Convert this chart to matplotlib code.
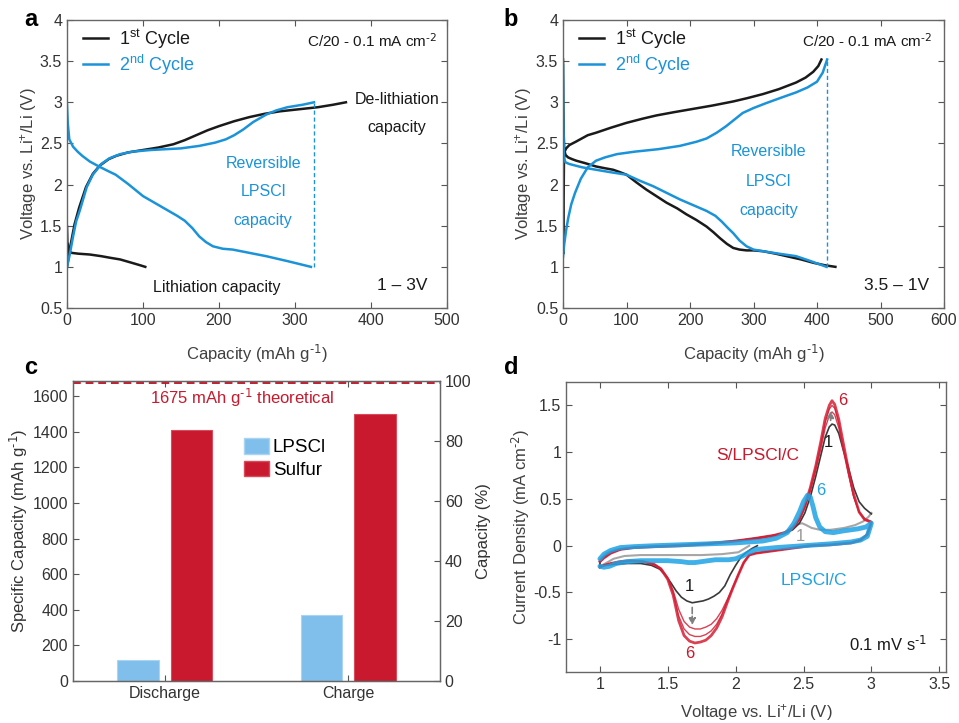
import matplotlib
matplotlib.use('Agg')
import matplotlib.pyplot as plt
from matplotlib.ticker import FuncFormatter
from matplotlib.patches import Patch

plt.rcParams['font.family'] = ['Liberation Sans', 'DejaVu Sans']
plt.rcParams['mathtext.default'] = 'regular'

# ---- panel a : 1 - 3 V window ----
a_c1_dis_x = [0, 0.5, 3, 6, 15, 30, 45, 57, 70, 85, 96, 103]
a_c1_dis_y = [1.49, 1.30, 1.19, 1.17, 1.16, 1.15, 1.13, 1.11, 1.09, 1.05, 1.02, 1.00]
a_c1_chg_x = [0, 2, 5, 10, 16, 25, 34, 43, 55, 65, 80, 100, 120, 140, 155, 170, 185, 200,
              220, 240, 260, 280, 300, 330, 350, 367]
a_c1_chg_y = [1.00, 1.12, 1.28, 1.52, 1.72, 1.97, 2.13, 2.23, 2.31, 2.35, 2.39, 2.42, 2.45,
              2.49, 2.54, 2.60, 2.66, 2.71, 2.77, 2.82, 2.86, 2.89, 2.91, 2.94, 2.97, 3.00]
a_c2_dis_x = [0, 1, 3, 8, 14, 20, 30, 42, 55, 64, 80, 100, 115, 130, 145, 155, 165, 174,
              183, 192, 205, 218, 240, 262, 290, 321]
a_c2_dis_y = [2.97, 2.75, 2.55, 2.46, 2.40, 2.35, 2.28, 2.22, 2.16, 2.12, 2.01, 1.86, 1.78,
              1.70, 1.62, 1.56, 1.47, 1.37, 1.30, 1.25, 1.22, 1.21, 1.17, 1.13, 1.07, 1.00]
a_c2_chg_x = [0, 2, 4, 8, 12, 17, 26, 34, 45, 56, 70, 86, 110, 130, 150, 174, 195, 209,
              220, 232, 245, 262, 275, 290, 310, 325]
a_c2_chg_y = [1.00, 1.08, 1.17, 1.37, 1.55, 1.69, 1.97, 2.12, 2.25, 2.32, 2.37, 2.40, 2.42,
              2.43, 2.44, 2.47, 2.51, 2.55, 2.60, 2.67, 2.76, 2.85, 2.90, 2.94, 2.97, 3.00]
a_rev_cap = 325

# ---- panel b : 3.5 - 1 V window ----
b_c1_dis_x = [0, 0.5, 1.2, 2, 4, 8, 14, 21, 35, 52, 65, 79, 90, 100, 115, 131, 147, 163,
              180, 194, 210, 226, 237, 247, 258, 268, 278, 289, 300, 315, 335, 352, 375,
              394, 412, 429]
b_c1_dis_y = [3.52, 3.00, 2.60, 2.42, 2.36, 2.33, 2.31, 2.29, 2.26, 2.22, 2.20, 2.18, 2.15,
              2.12, 2.03, 1.94, 1.86, 1.78, 1.71, 1.64, 1.57, 1.49, 1.42, 1.35, 1.28, 1.23,
              1.21, 1.20, 1.20, 1.19, 1.16, 1.13, 1.09, 1.05, 1.02, 1.00]
b_c1_chg_x = [1, 1, 1.5, 2.5, 5, 10, 20, 39, 52, 75, 100, 125, 147, 175, 205, 235, 268,
              290, 315, 340, 367, 382, 394, 402, 407]
b_c1_chg_y = [1.17, 1.80, 2.30, 2.40, 2.44, 2.48, 2.52, 2.60, 2.63, 2.69, 2.75, 2.80, 2.84,
              2.88, 2.92, 2.96, 3.01, 3.05, 3.10, 3.16, 3.24, 3.30, 3.37, 3.44, 3.52]
b_c2_dis_x = [0, 0.5, 1.5, 4, 10, 20, 30, 52, 75, 100, 120, 142, 163, 184, 205, 226, 240,
              250, 260, 268, 278, 289, 300, 315, 340, 367, 390, 415]
b_c2_dis_y = [3.45, 2.80, 2.32, 2.27, 2.25, 2.23, 2.21, 2.18, 2.15, 2.12, 2.05, 1.98, 1.90,
              1.82, 1.75, 1.68, 1.62, 1.55, 1.47, 1.41, 1.32, 1.25, 1.21, 1.19, 1.16, 1.13,
              1.07, 1.00]
b_c2_chg_x = [0, 2, 5, 8.4, 13, 19, 28, 39, 52, 66, 85, 113, 150, 184, 210, 226, 242, 257,
              270, 283, 300, 320, 345, 367, 385, 400, 409, 416]
b_c2_chg_y = [1.12, 1.28, 1.45, 1.60, 1.76, 1.90, 2.07, 2.21, 2.29, 2.33, 2.37, 2.40, 2.43,
              2.47, 2.52, 2.56, 2.63, 2.71, 2.79, 2.87, 2.93, 2.99, 3.06, 3.12, 3.18, 3.25,
              3.36, 3.52]
b_rev_cap = 416

# ---- panel c : bars ----
c_categories = ['Discharge', 'Charge']
c_lpsci = [117, 370]
c_sulfur = [1409, 1501]
c_theoretical = 1675

# ---- panel d : CV, S/LPSCI/C (red cycles 2,4,6 + black cycle 1) ----
d_v_an = [1.00, 1.03, 1.08, 1.15, 1.25, 1.40, 1.60, 1.80, 2.00, 2.15, 2.28, 2.36, 2.42,
          2.47, 2.51, 2.55, 2.59, 2.63, 2.66, 2.69, 2.71, 2.73, 2.76, 2.79, 2.83, 2.87,
          2.91, 2.95, 3.00]
d_v_ca = [2.97, 2.92, 2.85, 2.70, 2.55, 2.40, 2.25, 2.15, 2.10, 2.06, 2.02, 1.98, 1.94,
          1.90, 1.86, 1.82, 1.78, 1.74, 1.70, 1.66, 1.62, 1.58, 1.54, 1.50, 1.45, 1.40,
          1.32, 1.23, 1.15, 1.08, 1.03, 1.00]
d_red6_an = [-0.17, -0.13, -0.08, -0.04, -0.02, -0.01, 0.00, 0.02, 0.05, 0.08, 0.11, 0.14,
             0.19, 0.29, 0.43, 0.62, 0.85, 1.13, 1.36, 1.50, 1.55, 1.51, 1.35, 1.12, 0.82,
             0.55, 0.36, 0.28, 0.25]
d_red6_ca = [0.12, 0.06, 0.03, 0.01, 0.00, -0.03, -0.06, -0.08, -0.10, -0.18, -0.31, -0.45,
             -0.60, -0.76, -0.88, -0.96, -1.01, -1.03, -1.04, -1.02, -0.96, -0.80, -0.53,
             -0.36, -0.25, -0.20, -0.17, -0.16, -0.17, -0.19, -0.21, -0.23]
d_red4_an = [-0.17, -0.13, -0.08, -0.04, -0.02, -0.01, 0.00, 0.02, 0.05, 0.08, 0.11, 0.14,
             0.19, 0.28, 0.42, 0.61, 0.84, 1.10, 1.32, 1.46, 1.50, 1.47, 1.31, 1.08, 0.79,
             0.53, 0.36, 0.28, 0.25]
d_red4_ca = [0.12, 0.06, 0.03, 0.01, 0.00, -0.03, -0.06, -0.08, -0.10, -0.18, -0.31, -0.45,
             -0.59, -0.73, -0.84, -0.91, -0.95, -0.97, -0.97, -0.95, -0.89, -0.75, -0.51,
             -0.35, -0.25, -0.20, -0.17, -0.16, -0.17, -0.19, -0.21, -0.23]
d_red2_an = [-0.17, -0.13, -0.08, -0.04, -0.02, -0.01, 0.00, 0.02, 0.05, 0.08, 0.11, 0.14,
             0.18, 0.27, 0.40, 0.58, 0.80, 1.05, 1.26, 1.39, 1.43, 1.40, 1.26, 1.04, 0.77,
             0.52, 0.36, 0.29, 0.26]
d_red2_ca = [0.12, 0.06, 0.03, 0.01, 0.00, -0.03, -0.06, -0.08, -0.10, -0.18, -0.31, -0.44,
             -0.57, -0.69, -0.78, -0.84, -0.87, -0.89, -0.89, -0.87, -0.81, -0.68, -0.48,
             -0.34, -0.24, -0.20, -0.17, -0.16, -0.17, -0.19, -0.21, -0.23]
d_blk1_v_ca = [2.16, 2.12, 2.08, 2.04, 2.00, 1.96, 1.92, 1.88, 1.84, 1.80, 1.76, 1.72, 1.68,
               1.64, 1.60, 1.56, 1.52, 1.48, 1.44, 1.38, 1.30, 1.20, 1.10, 1.04, 1.00]
d_blk1_ca = [0.00, -0.03, -0.07, -0.12, -0.21, -0.31, -0.43, -0.50, -0.54, -0.57, -0.59,
             -0.60, -0.61, -0.59, -0.55, -0.48, -0.39, -0.31, -0.25, -0.21, -0.19, -0.19,
             -0.20, -0.21, -0.22]
d_blk1_an = [-0.17, -0.12, -0.07, -0.04, -0.02, -0.01, 0.00, 0.02, 0.05, 0.08, 0.11, 0.13,
             0.17, 0.24, 0.35, 0.52, 0.74, 0.98, 1.16, 1.27, 1.30, 1.29, 1.20, 1.04, 0.84,
             0.62, 0.47, 0.40, 0.34]

# ---- panel d : CV, LPSCI/C (blue cycle 6, grey cycle 1) ----
d_b_v_an = [1.00, 1.03, 1.08, 1.15, 1.25, 1.40, 1.60, 1.80, 2.00, 2.20, 2.30, 2.38, 2.43,
            2.47, 2.50, 2.53, 2.55, 2.57, 2.59, 2.62, 2.66, 2.72, 2.80, 2.90, 2.96, 3.00]
d_b6_an = [-0.14, -0.09, -0.05, -0.02, -0.01, 0.00, 0.01, 0.02, 0.03, 0.05, 0.08, 0.14, 0.24,
           0.36, 0.47, 0.54, 0.52, 0.42, 0.30, 0.20, 0.15, 0.14, 0.16, 0.18, 0.20, 0.24]
d_b_v_ca = [2.97, 2.92, 2.85, 2.70, 2.50, 2.30, 2.15, 2.10, 2.05, 2.00, 1.95, 1.90, 1.85,
            1.80, 1.75, 1.70, 1.65, 1.60, 1.50, 1.40, 1.30, 1.20, 1.12, 1.07, 1.03, 1.00]
d_b6_ca = [0.10, 0.06, 0.04, 0.02, 0.00, -0.02, -0.04, -0.07, -0.11, -0.14, -0.15, -0.15,
           -0.15, -0.16, -0.17, -0.18, -0.18, -0.17, -0.16, -0.16, -0.16, -0.17, -0.19,
           -0.22, -0.23, -0.22]
d_g1_v_ca = [2.10, 2.02, 1.90, 1.75, 1.60, 1.45, 1.30, 1.18, 1.10, 1.04, 1.00]
d_g1_ca = [0.00, -0.07, -0.09, -0.10, -0.10, -0.10, -0.10, -0.11, -0.14, -0.19, -0.22]
d_g1_v_an = [1.00, 1.05, 1.12, 1.25, 1.50, 1.80, 2.05, 2.25, 2.35, 2.42, 2.46, 2.49, 2.52,
             2.56, 2.62, 2.70, 2.80, 2.88, 2.94, 2.98, 3.00]
d_g1_an = [-0.15, -0.08, -0.04, -0.02, 0.00, 0.03, 0.06, 0.09, 0.13, 0.19, 0.23, 0.24, 0.22,
           0.19, 0.17, 0.17, 0.19, 0.22, 0.26, 0.31, 0.35]

BLACK = '#1a1a1a'
BLUE = '#1b93d9'
CBLUE = '#1ea3e4'
RED = '#c8192e'
LBLUE = '#80bfeb'
TXT = '#333333'

fmt = FuncFormatter(lambda v, p: '%g' % v)


def style(ax):
    ax.tick_params(direction='in', top=True, right=True, length=4, labelsize=11.5,
                   colors='#555555', labelcolor=TXT)
    for s in ax.spines.values():
        s.set_color('#666666')
        s.set_linewidth(1.0)


fig = plt.figure(figsize=(9.59, 7.23), dpi=100)
W, H = 959.0, 723.0


def add_ax(l, t, r, b):
    return fig.add_axes([l / W, 1 - b / H, (r - l) / W, (b - t) / H])


ax_a = add_ax(67, 20, 447, 308)
ax_b = add_ax(563, 20, 944, 308)
ax_c = add_ax(73, 381, 440, 681)
ax_d = add_ax(566, 382, 946, 672)

# ---- a ----
ax_a.plot(a_c1_dis_x, a_c1_dis_y, color=BLACK, lw=1.8, label='1$^{st}$ Cycle')
ax_a.plot(a_c1_chg_x, a_c1_chg_y, color=BLACK, lw=1.8)
ax_a.plot(a_c2_dis_x, a_c2_dis_y, color=BLUE, lw=1.8, label='2$^{nd}$ Cycle')
ax_a.plot(a_c2_chg_x, a_c2_chg_y, color=BLUE, lw=1.8)
ax_a.plot([a_rev_cap, a_rev_cap], [1.0, 3.0], color=BLUE, lw=1.0, ls=(0, (3, 2)))
ax_a.set_xlim(0, 500)
ax_a.set_ylim(0.5, 4)
ax_a.set_xticks(range(0, 501, 100))
ax_a.text(0.974, 0.927, r'C/20 - 0.1 mA cm$^{\text{-2}}$', transform=ax_a.transAxes,
          ha='right', va='center', fontsize=11, color=BLACK)
ax_a.text(379, 3.03, 'De-lithiation', fontsize=11.5, ha='left', va='center', color=BLACK)
ax_a.text(434, 2.69, 'capacity', fontsize=11.5, ha='center', va='center', color=BLACK)
for txt, yy in zip(['Reversible', 'LPSCl', 'capacity'], [2.26, 1.91, 1.56]):
    ax_a.text(258, yy, txt, fontsize=11.5, ha='center', va='center', color=BLUE)
ax_a.text(197, 0.755, 'Lithiation capacity', fontsize=11.5, ha='center', va='center', color=BLACK)
ax_a.text(474, 0.77, '1 – 3V', fontsize=12.5, ha='right', va='center', color=BLACK)

# ---- b ----
ax_b.plot(b_c1_dis_x, b_c1_dis_y, color=BLACK, lw=1.8, label='1$^{st}$ Cycle')
ax_b.plot(b_c1_chg_x, b_c1_chg_y, color=BLACK, lw=1.8)
ax_b.plot(b_c2_dis_x, b_c2_dis_y, color=BLUE, lw=1.8, label='2$^{nd}$ Cycle')
ax_b.plot(b_c2_chg_x, b_c2_chg_y, color=BLUE, lw=1.8)
ax_b.plot([b_rev_cap, b_rev_cap], [1.0, 3.5], color=BLUE, lw=1.0, ls=(0, (3, 2)))
ax_b.set_xlim(0, 600)
ax_b.set_ylim(0.5, 4)
ax_b.set_xticks(range(0, 601, 100))
ax_b.text(0.969, 0.927, r'C/20 - 0.1 mA cm$^{\text{-2}}$', transform=ax_b.transAxes,
          ha='right', va='center', fontsize=11, color=BLACK)
for txt, yy in zip(['Reversible', 'LPSCl', 'capacity'], [2.40, 2.04, 1.69]):
    ax_b.text(324, yy, txt, fontsize=11.5, ha='center', va='center', color=BLUE)
ax_b.text(576, 0.77, '3.5 – 1V', fontsize=12.5, ha='right', va='center', color=BLACK)

for ax in (ax_a, ax_b):
    style(ax)
    ax.xaxis.set_major_formatter(fmt)
    ax.yaxis.set_major_formatter(fmt)
    ax.set_xlabel(r'Capacity (mAh g$^{\text{-1}}$)', fontsize=12, color='#404040')
    ax.xaxis.set_label_coords(0.5, -0.12)
    ax.set_ylabel('Voltage vs. Li$^{+}$/Li (V)', fontsize=12, color='#404040')
    ax.legend(loc='upper left', bbox_to_anchor=(0.042, 0.975), frameon=False, fontsize=13,
              handlelength=1.4, handletextpad=0.6, borderpad=0, borderaxespad=0,
              labelspacing=0.1, labelcolor='linecolor')
ax_a.yaxis.set_label_coords(-0.074, 0.5)
ax_b.yaxis.set_label_coords(-0.076, 0.5)

# ---- c ----
pos = [1, 2]
off, bw = 0.145, 0.225
ax_c.bar([p - off for p in pos], c_lpsci, width=bw, color=LBLUE, edgecolor='#a9d4f2', lw=0.8)
ax_c.bar([p + off for p in pos], c_sulfur, width=bw, color=RED, edgecolor='#d94a5a', lw=0.8)
ax_c.axhline(c_theoretical, color=RED, lw=1.4, ls=(0, (4, 2.5)))
ax_c.text(1.42, 1590, r'%d mAh g$^{\text{-1}}$ theoretical' % c_theoretical, color=RED,
          fontsize=12, ha='center', va='center')
ax_c.set_xlim(0.5, 2.5)
ax_c.set_ylim(0, 1685)
ax_c.set_xticks(pos)
ax_c.set_xticklabels(c_categories)
ax_c.set_yticks(range(0, 1601, 200))
style(ax_c)
ax_c.tick_params(right=False)
ax_c.set_ylabel(r'Specific Capacity (mAh g$^{\text{-1}}$)', fontsize=12, color=TXT)
ax_c.yaxis.set_label_coords(-0.117, 0.5)
ax_c.legend(handles=[Patch(facecolor=LBLUE, edgecolor='#a9d4f2', label='LPSCl'),
                     Patch(facecolor=RED, edgecolor='#d94a5a', label='Sulfur')],
            loc='upper left', bbox_to_anchor=(0.465, 0.81), frameon=False, fontsize=13.5,
            handlelength=1.35, handleheight=0.9, handletextpad=0.2, borderpad=0,
            borderaxespad=0, labelspacing=0.25)
ax_c2 = ax_c.twinx()
ax_c2.set_ylim(0, 100)
ax_c2.set_yticks(range(0, 101, 20))
ax_c2.tick_params(direction='in', length=4, labelsize=11.5, colors='#555555', labelcolor=TXT)
for s in ax_c2.spines.values():
    s.set_color('#666666')
ax_c2.set_ylabel('Capacity (%)', fontsize=12, color=TXT)
ax_c2.yaxis.set_label_coords(1.098, 0.5)

# ---- d ----
ax_d.plot(d_g1_v_ca + d_g1_v_an, d_g1_ca + d_g1_an, color='#a6a6a6', lw=1.5)
ax_d.plot(d_blk1_v_ca + d_v_an, d_blk1_ca + d_blk1_an, color='#3a3a3a', lw=1.2)
for ian, ica, lw in [(d_red2_an, d_red2_ca, 1.0), (d_red4_an, d_red4_ca, 1.0),
                     (d_red6_an, d_red6_ca, 2.0)]:
    ax_d.plot(d_v_an + d_v_ca, ian + ica, color='#d41f35', lw=lw, alpha=0.85)
ax_d.plot(d_b_v_an + d_b_v_ca, d_b6_an + d_b6_ca, color=CBLUE, lw=3.5, alpha=0.85,
          solid_capstyle='round')
ax_d.annotate('', xy=(1.68, -0.88), xytext=(1.68, -0.63),
              arrowprops=dict(arrowstyle='-|>', ls='--', color='#808080', lw=1.2,
                              mutation_scale=10))
ax_d.annotate('', xy=(2.70, 1.47), xytext=(2.70, 1.31),
              arrowprops=dict(arrowstyle='-|>', ls='--', color='#808080', lw=1.2,
                              mutation_scale=10))
ax_d.text(2.79, 1.55, '6', color=RED, fontsize=12, ha='center', va='center')
ax_d.text(2.68, 1.10, '1', color=BLACK, fontsize=12, ha='center', va='center')
ax_d.text(2.16, 0.96, 'S/LPSCl/C', color=RED, fontsize=12.5, ha='center', va='center')
ax_d.text(2.63, 0.59, '6', color=CBLUE, fontsize=12, ha='center', va='center')
ax_d.text(2.48, 0.10, '1', color='#9a9a9a', fontsize=12, ha='center', va='center')
ax_d.text(2.58, -0.37, 'LPSCl/C', color=CBLUE, fontsize=12.5, ha='center', va='center')
ax_d.text(1.66, -0.44, '1', color=BLACK, fontsize=12, ha='center', va='center')
ax_d.text(1.66, -1.15, '6', color=RED, fontsize=12, ha='center', va='center')
ax_d.text(3.41, -1.05, r'0.1 mV s$^{\text{-1}}$', color=BLACK, fontsize=12, ha='right',
          va='center')
ax_d.set_xlim(0.75, 3.55)
ax_d.set_ylim(-1.35, 1.75)
ax_d.set_xticks([1, 1.5, 2, 2.5, 3, 3.5])
ax_d.set_yticks([-1, -0.5, 0, 0.5, 1, 1.5])
style(ax_d)
ax_d.xaxis.set_major_formatter(fmt)
ax_d.yaxis.set_major_formatter(fmt)
ax_d.set_xlabel('Voltage vs. Li$^{+}$/Li (V)', fontsize=12, color='#404040')
ax_d.xaxis.set_label_coords(0.5, -0.105)
ax_d.set_ylabel(r'Current Density (mA cm$^{\text{-2}}$)', fontsize=12, color='#404040')
ax_d.yaxis.set_label_coords(-0.09, 0.5)

# panel letters
for lab, x, y in [('a', 31, 20), ('b', 511, 20), ('c', 31, 367), ('d', 511, 367)]:
    fig.text(x / W, 1 - y / H, lab, fontsize=17, fontweight='bold', ha='center', va='center')

fig.savefig('out.png', dpi=100)
